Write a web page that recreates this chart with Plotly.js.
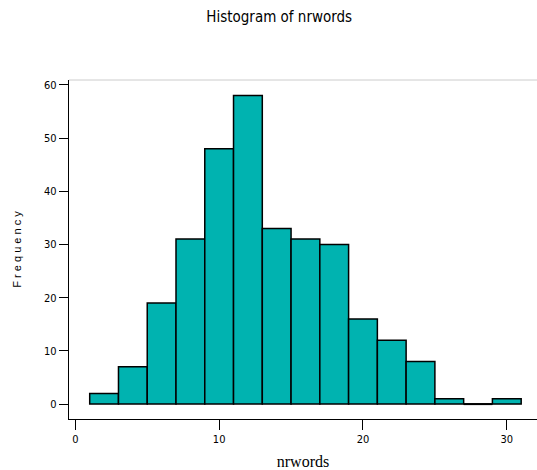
<!DOCTYPE html>
<html><head><meta charset="utf-8">
<script src="https://cdn.plot.ly/plotly-3.0.1.min.js"></script>
<style>html,body{margin:0;padding:0;background:#fff;}</style>
</head><body>
<div id="chart" style="width:537px;height:470px;"></div>
<script>
const binStarts = [1,3,5,7,9,11,13,15,17,19,21,23,25,27,29];
const binWidth = 2;
const counts = [2,7,19,31,48,58,33,31,30,16,12,8,1,0,1];
const xTicks = [0,10,20,30];
const yTicks = [0,10,20,30,40,50,60];

const centers = binStarts.map(s => s + binWidth/2);
const narrow = '"Liberation Sans Narrow", "DejaVu Sans Condensed", Arial, sans-serif';

const trace = {
  type: 'bar',
  x: centers,
  y: counts,
  width: binStarts.map(() => binWidth),
  marker: {color: '#00b3b0', line: {color: '#000', width: 1.5}},
  hoverinfo: 'x+y'
};

// empty bins are drawn as a flat black outline on the baseline
const zx = [], zy = [];
binStarts.forEach((s, i) => {
  if (counts[i] === 0) { zx.push(s, s + binWidth, null); zy.push(0, 0, null); }
});
const zeroTrace = {type: 'scatter', mode: 'lines', x: zx, y: zy,
  line: {color: '#000', width: 2}, hoverinfo: 'skip', connectgaps: false};

const layout = {
  width: 537, height: 470,
  margin: {l: 69, r: 0, t: 80, b: 51},
  paper_bgcolor: '#fff', plot_bgcolor: '#fff',
  showlegend: false,
  bargap: 0,
  title: {text: 'Histogram of nrwords', x: 0.52, xanchor: 'center', y: 0.965, yanchor: 'middle',
          font: {family: narrow, size: 15, color: '#000'}},
  xaxis: {
    range: [-0.44, 32.1], tickvals: xTicks, ticktext: xTicks.map(String),
    ticks: 'outside', ticklen: 10, tickwidth: 1, tickcolor: '#000',
    showline: true, linecolor: '#000', linewidth: 1.2,
    showgrid: false, zeroline: false,
    tickfont: {family: narrow, size: 11, color: '#000'},
    title: {text: 'nrwords', font: {family: '"Liberation Serif", "DejaVu Serif", serif', size: 16, color: '#000'}, standoff: 10}
  },
  yaxis: {
    range: [-2.8, 60.9], tickvals: yTicks, ticktext: yTicks.map(String),
    ticks: 'outside', ticklen: 9, tickwidth: 1, tickcolor: '#000',
    showline: true, linecolor: '#000', linewidth: 1.2,
    showgrid: false, zeroline: false,
    tickfont: {family: narrow, size: 11, color: '#000'},
    title: {text: 'F r e q u e n c y', font: {family: 'Arial, "Liberation Sans", sans-serif', size: 11, color: '#000'}, standoff: 20}
  },
  shapes: [{type: 'line', xref: 'paper', yref: 'paper', x0: 0, x1: 1, y0: 1, y1: 1,
            line: {color: '#cccccc', width: 1}}]
};

Plotly.newPlot('chart', [trace, zeroTrace], layout, {displayModeBar: false, staticPlot: true});
</script>
</body></html>
